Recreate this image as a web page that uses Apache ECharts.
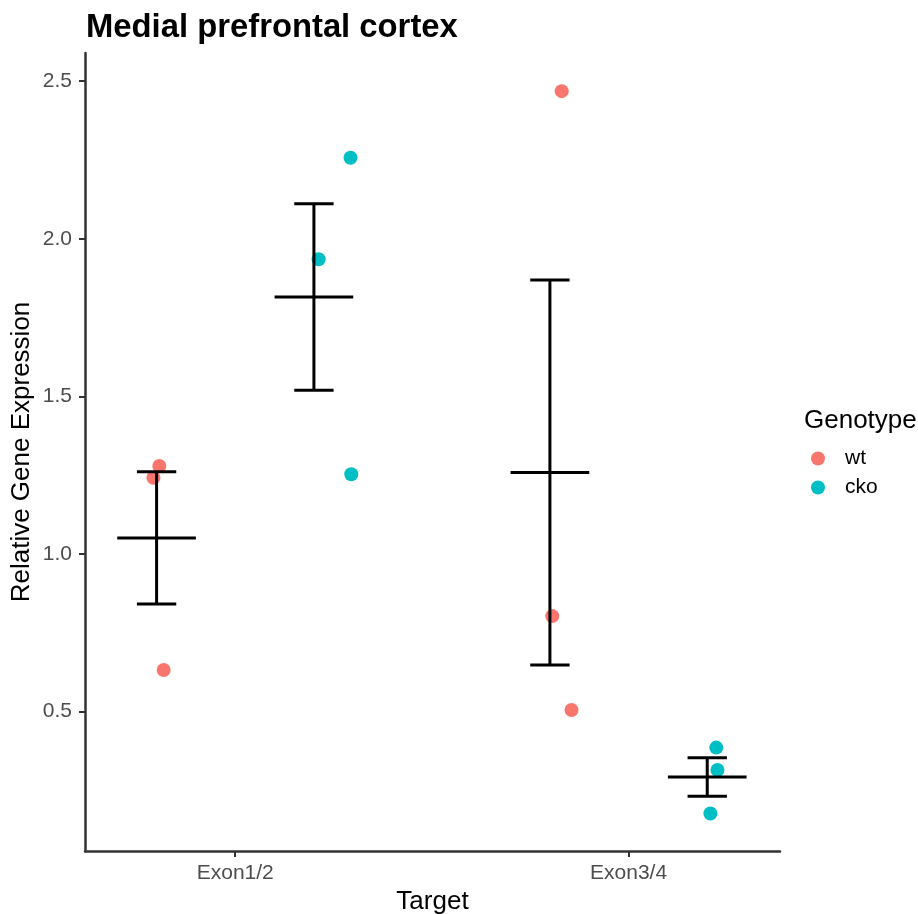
<!DOCTYPE html>
<html>
<head>
<meta charset="utf-8">
<title>Medial prefrontal cortex</title>
<script src="https://cdn.jsdelivr.net/npm/echarts@6/dist/echarts.min.js"></script>
<style>
  html, body { margin: 0; padding: 0; background: #ffffff; }
  #chart { width: 918px; height: 914px; }
</style>
</head>
<body>
<div id="chart"></div>
<script>
// Targets on the x axis (positions 1 and 2)
const targets = ['Exon1/2', 'Exon3/4'];
const genotypes = ['wt', 'cko'];
const yTicks = [0.5, 1.0, 1.5, 2.0, 2.5];

// Individual samples: [jittered x, relative expression]
const wtExon12 = [[0.807, 1.279], [0.792, 1.242], [0.818, 0.632]];
const ckoExon12 = [[1.293, 2.257], [1.212, 1.935], [1.295, 1.253]];
const wtExon34 = [[1.830, 2.468], [1.806, 0.803], [1.855, 0.505]];
const ckoExon34 = [[2.223, 0.386], [2.226, 0.315], [2.208, 0.177]];

// Dodged group centres for the summary bars
const wtCentres = [0.8, 1.8];
const ckoCentres = [1.2, 2.2];

const colors = { wt: '#F8766D', cko: '#00BFC4' };

// mean ± standard error of a group of samples
function summary(centre, pts) {
  const ys = pts.map(p => p[1]);
  const n = ys.length;
  const mean = ys.reduce((a, b) => a + b, 0) / n;
  const sd = Math.sqrt(ys.reduce((a, b) => a + (b - mean) * (b - mean), 0) / (n - 1));
  const se = sd / Math.sqrt(n);
  return [centre, mean, mean - se, mean + se];
}

const summaries = [
  summary(wtCentres[0], wtExon12),
  summary(ckoCentres[0], ckoExon12),
  summary(wtCentres[1], wtExon34),
  summary(ckoCentres[1], ckoExon34)
];

const chart = echarts.init(document.getElementById('chart'), null, { renderer: 'canvas' });

const axisColor = '#333333';
const labelColor = '#4d4d4d';
const font = 'Liberation Sans, Arial, Helvetica, sans-serif';

// vertical whisker, two caps and a wider mean line
function errorBarItem(params, api) {
  const x = api.value(0), mean = api.value(1), lo = api.value(2), hi = api.value(3);
  const capHalf = 0.05, meanHalf = 0.1;
  const style = { stroke: '#000000', lineWidth: 3, lineCap: 'butt' };
  const pTop = api.coord([x, hi]);
  const pBot = api.coord([x, lo]);
  const capL = api.coord([x - capHalf, hi]);
  const capR = api.coord([x + capHalf, hi]);
  const capLb = api.coord([x - capHalf, lo]);
  const capRb = api.coord([x + capHalf, lo]);
  const mL = api.coord([x - meanHalf, mean]);
  const mR = api.coord([x + meanHalf, mean]);
  return {
    type: 'group',
    children: [
      { type: 'line', shape: { x1: pTop[0], y1: pTop[1], x2: pBot[0], y2: pBot[1] }, style: style },
      { type: 'line', shape: { x1: capL[0], y1: capL[1], x2: capR[0], y2: capR[1] }, style: style },
      { type: 'line', shape: { x1: capLb[0], y1: capLb[1], x2: capRb[0], y2: capRb[1] }, style: style },
      { type: 'line', shape: { x1: mL[0], y1: mL[1], x2: mR[0], y2: mR[1] }, style: style }
    ]
  };
}

const option = {
  backgroundColor: '#ffffff',
  animation: false,
  textStyle: { fontFamily: font },
  title: {
    text: 'Medial prefrontal cortex',
    left: 81,
    top: 6,
    textStyle: { fontSize: 32.8, fontWeight: 'bold', color: '#000000', fontFamily: font }
  },
  legend: {
    orient: 'vertical',
    left: 806,
    top: 443,
    itemWidth: 44,
    itemHeight: 14,
    itemGap: 8,
    icon: 'circle',
    data: genotypes,
    textStyle: { fontSize: 21, lineHeight: 21, color: '#000000', fontFamily: font }
  },
  graphic: [
    {
      type: 'text',
      left: 804,
      top: 408,
      style: { text: 'Genotype', fontSize: 26, fill: '#000000', fontFamily: font }
    }
  ],
  grid: { left: 85, top: 53, width: 695, height: 798, containLabel: false, outerBoundsMode: 'none' },
  xAxis: {
    type: 'value',
    min: 0.618,
    max: 2.385,
    name: 'Target',
    nameLocation: 'middle',
    nameGap: 38,
    nameMoveOverlap: false,
    nameTextStyle: { fontSize: 26, color: '#000000', fontFamily: font },
    splitLine: { show: false },
    axisLine: { show: true, onZero: false, lineStyle: { color: axisColor, width: 2.5 } },
    axisTick: { show: true, length: 6, customValues: [1, 2], lineStyle: { color: axisColor, width: 2 } },
    axisLabel: {
      show: true,
      customValues: [1, 2],
      formatter: v => targets[Math.round(v) - 1],
      fontSize: 21,
      color: labelColor,
      margin: 12,
      fontFamily: font
    }
  },
  yAxis: {
    type: 'value',
    min: 0.058,
    max: 2.589,
    name: 'Relative Gene Expression',
    nameLocation: 'middle',
    nameGap: 50,
    nameMoveOverlap: false,
    nameTextStyle: { fontSize: 26, color: '#000000', fontFamily: font },
    splitLine: { show: false },
    axisLine: { show: true, onZero: false, lineStyle: { color: axisColor, width: 2.5 } },
    axisTick: { show: true, length: 6, customValues: yTicks, lineStyle: { color: axisColor, width: 2 } },
    axisLabel: {
      show: true,
      customValues: yTicks,
      formatter: v => v.toFixed(1),
      fontSize: 21,
      color: labelColor,
      margin: 13,
      fontFamily: font
    }
  },
  series: [
    {
      name: 'wt',
      type: 'scatter',
      symbolSize: 14,
      itemStyle: { color: colors.wt, opacity: 1 },
      data: wtExon12.concat(wtExon34),
      z: 2
    },
    {
      name: 'cko',
      type: 'scatter',
      symbolSize: 14,
      itemStyle: { color: colors.cko, opacity: 1 },
      data: ckoExon12.concat(ckoExon34),
      z: 2
    },
    {
      name: 'mean ± SE',
      type: 'custom',
      renderItem: errorBarItem,
      data: summaries,
      encode: { x: 0, y: [1, 2, 3] },
      z: 5,
      silent: true
    }
  ]
};

chart.setOption(option);
</script>
</body>
</html>
